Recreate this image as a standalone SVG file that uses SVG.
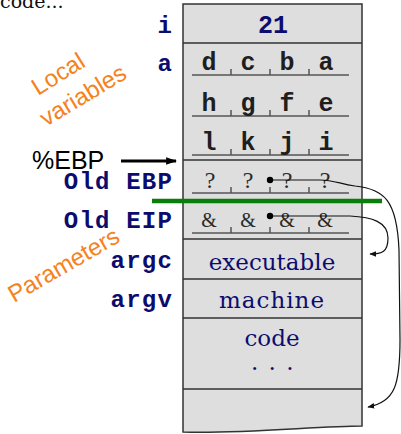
<svg xmlns="http://www.w3.org/2000/svg" width="401" height="434" viewBox="0 0 401 434">
  <style>
    .lbl { font-family: "Liberation Mono", "Courier New", monospace; font-weight: bold; font-size: 24px; letter-spacing: 1.2px; fill: #0c0c6e; text-anchor: end; }
    .byte { font-family: "Liberation Mono", "Courier New", monospace; font-weight: bold; font-size: 25px; fill: #1e1e1e; text-anchor: middle; }
    .ser { font-family: "DejaVu Serif", "Liberation Serif", serif; font-size: 23px; fill: #0c0c6e; text-anchor: middle; }
    .q { font-family: "Liberation Serif", "DejaVu Serif", serif; font-size: 24px; fill: #2a2a2a; text-anchor: middle; }
    .amp { font-family: "Liberation Serif", "DejaVu Serif", serif; font-size: 20px; fill: #2a2a2a; text-anchor: middle; }
    .note { font-family: "Liberation Sans", Arial, sans-serif; font-size: 24px; fill: #f58220; }
    .sep { stroke: #333; stroke-width: 1.4; fill: none; }
    .ul { stroke: #555; stroke-width: 1.5; fill: none; }
    .link { stroke: #111; stroke-width: 1.2; fill: none; }
  </style>
  <defs>
    <marker id="head" viewBox="0 0 10 10" refX="9" refY="5" markerWidth="7" markerHeight="7" orient="auto" markerUnits="userSpaceOnUse">
      <path d="M0,1 L10,5 L0,9 Z" fill="#111"/>
    </marker>
    <marker id="headBig" viewBox="0 0 10 10" refX="9" refY="5" markerWidth="11" markerHeight="11" orient="auto" markerUnits="userSpaceOnUse">
      <path d="M0,1.5 L10,5 L0,8.5 Z" fill="#000"/>
    </marker>
    <!-- underline with three byte ticks -->
    <g id="bytes">
      <path class="ul" d="M192,0 H349 M231,0 V-6 M270,0 V-6 M309,0 V-6"/>
    </g>
  </defs>

  <!-- caption fragment at the top edge -->
  <text x="0" y="8" font-family="DejaVu Serif, Liberation Serif, serif" font-size="19" fill="#111">code...</text>

  <!-- stack frame body -->
  <g id="stack">
    <path d="M183,4 H362 V426 C320,426 240,434 183,432 Z" fill="#dedede" stroke="#333" stroke-width="1.5"/>
    <path class="sep" d="M183,43 H362 M183,160 H362 M183,239 H362 M183,279 H362 M183,318 H362 M183,389 H362"/>
  </g>

  <g id="row-i">
    <text class="lbl" x="173" y="33">i</text>
    <text class="byte" x="273" y="33" style="fill:#0c0c6e">21</text>
  </g>

  <g id="row-a">
    <text class="lbl" x="173" y="71">a</text>
    <use href="#bytes" y="75"/>
    <text class="byte" x="209" y="70">d</text>
    <text class="byte" x="248" y="70">c</text>
    <text class="byte" x="287" y="70">b</text>
    <text class="byte" x="326" y="70">a</text>
  </g>

  <g id="row-h">
    <use href="#bytes" y="116"/>
    <text class="byte" x="209" y="111">h</text>
    <text class="byte" x="248" y="111">g</text>
    <text class="byte" x="287" y="111">f</text>
    <text class="byte" x="326" y="111">e</text>
  </g>

  <g id="row-l">
    <use href="#bytes" y="155"/>
    <text class="byte" x="209" y="150">l</text>
    <text class="byte" x="248" y="150">k</text>
    <text class="byte" x="287" y="150">j</text>
    <text class="byte" x="326" y="150">i</text>
  </g>

  <g id="old-ebp">
    <text class="lbl" x="173" y="189">Old EBP</text>
    <use href="#bytes" y="193"/>
    <text class="q" x="210" y="188">?</text>
    <text class="q" x="248" y="188">?</text>
    <text class="q" x="287" y="188">?</text>
    <text class="q" x="325" y="188">?</text>
  </g>

  <g id="old-eip">
    <text class="lbl" x="173" y="228">Old EIP</text>
    <use href="#bytes" y="233"/>
    <text class="amp" x="209" y="227">&amp;</text>
    <text class="amp" x="248" y="227">&amp;</text>
    <text class="amp" x="287" y="227">&amp;</text>
    <text class="amp" x="325" y="227">&amp;</text>
  </g>

  <g id="argc">
    <text class="lbl" x="173" y="268">argc</text>
    <text class="ser" x="272" y="270">executable</text>
  </g>

  <g id="argv">
    <text class="lbl" x="173" y="307">argv</text>
    <text class="ser" x="272" y="308" letter-spacing="1">machine</text>
  </g>

  <g id="code">
    <text class="ser" x="272" y="346">code</text>
    <text class="ser" x="273" y="370" letter-spacing="1.5">. . .</text>
  </g>

  <!-- frame base marker -->
  <g id="ebp">
    <text x="32" y="169" font-family="Liberation Sans, Arial, sans-serif" font-size="25" fill="#000">%EBP</text>
  </g>

  <!-- boundary between locals and parameters -->
  <line x1="152" y1="201" x2="382" y2="201" stroke="#0a7d0a" stroke-width="4.5"/>

  <!-- region notes -->
  <g id="notes">
    <text class="note" transform="translate(38,96) rotate(-32)">Local</text>
    <text class="note" transform="translate(46,127) rotate(-31)">variables</text>
    <text class="note" transform="translate(14,303) rotate(-30)">Parameters</text>
  </g>

  <g id="connectors">
    <line x1="121" y1="161" x2="176" y2="161" stroke="#000" stroke-width="3" marker-end="url(#headBig)"/>
    <path class="link" d="M270,180 H320 C334,180 340,184 355,186 C384,189 397,200 399,250 L400,340 C400,385 395,402 368,407" marker-end="url(#head)"/>
    <path class="link" d="M270,216 H350 C372,217 388,222 388,238 C388,252 382,254 370,254" marker-end="url(#head)"/>
    <circle cx="270" cy="180" r="3.2" fill="#000"/>
    <circle cx="270" cy="216" r="3.2" fill="#000"/>
  </g>
</svg>
